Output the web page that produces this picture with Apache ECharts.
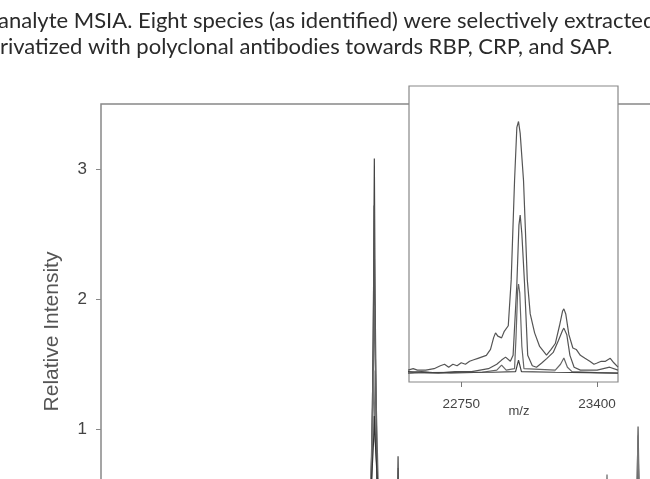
<!DOCTYPE html>
<html>
<head>
<meta charset="utf-8">
<script src="https://cdn.jsdelivr.net/npm/echarts@6.0.0/dist/echarts.min.js"></script>
<style>
  html, body { margin: 0; padding: 0; background: #fff; }
  #chart { width: 650px; height: 479px; }
</style>
</head>
<body>
<div id="chart"></div>
<script>
// caption lines above the figure (cut at the page edge)
var captionLines = [
  "analyte MSIA. Eight species (as identified) were selectively extracted",
  "derivatized with polyclonal antibodies towards RBP, CRP, and SAP."
];

// main spectra: [m/z, relative intensity]
var mainA = [[19000,0.04],[21010,0.08],[21030,0.6],[21044,2.0],[21050,3.08],[21056,2.0],[21070,0.6],[21090,0.08],
  [21215,0.06],[21224,0.45],[21228,0.79],[21232,0.45],[21241,0.06],[23012,0.06],[23022,0.5],[23028,0.86],[23034,0.5],[23046,0.06],[23500,0.04]];
var mainB = [[19000,0.04],[21005,0.08],[21028,0.6],[21042,1.7],[21048,2.72],[21055,1.7],[21068,0.6],[21095,0.08],
  [21218,0.06],[21226,0.4],[21229,0.7],[21233,0.4],[21240,0.06],[23010,0.06],[23021,0.6],[23028,1.02],[23035,0.6],[23047,0.06],[23500,0.04]];
var mainC = [[19000,0.04],[21000,0.08],[21024,0.62],[21040,1.3],[21052,1.95],[21062,1.3],[21078,0.62],[21100,0.08],
  [22780,0.06],[22790,0.4],[22795,0.65],[22800,0.4],[22810,0.06],[23500,0.04]];
var mainD = [[19000,0.04],[21002,0.08],[21022,0.6],[21038,1.0],[21046,1.45],[21054,1.0],[21074,0.6],[21098,0.08],
  [23010,0.06],[23020,0.55],[23027,0.95],[23034,0.55],[23046,0.06],[23500,0.04]];
var mainE = [[19000,0.04],[21008,0.08],[21030,0.62],[21044,0.9],[21050,1.1],[21057,0.9],[21072,0.62],[21092,0.08],[23500,0.04]];

// inset spectra (zoom on the 23 kDa region)
var insetA = [[22495,0.04],[22520,0.045],[22540,0.04],[22580,0.04],[22620,0.045],[22650,0.055],[22670,0.06],[22690,0.05],
  [22710,0.06],[22730,0.055],[22750,0.065],[22770,0.06],[22790,0.07],[22810,0.075],[22830,0.08],[22850,0.085],[22870,0.09],
  [22890,0.11],[22905,0.15],[22914,0.166],[22925,0.155],[22943,0.149],[22955,0.17],[22962,0.176],[22975,0.19],[22989,0.345],
  [23005,0.68],[23016,0.86],[23024,0.88],[23032,0.84],[23048,0.68],[23066,0.345],[23080,0.23],[23101,0.166],[23125,0.12],
  [23158,0.091],[23180,0.11],[23200,0.13],[23220,0.19],[23235,0.24],[23241,0.247],[23250,0.23],[23265,0.16],[23284,0.115],
  [23300,0.11],[23320,0.09],[23342,0.08],[23365,0.07],[23385,0.06],[23400,0.064],[23420,0.07],[23440,0.07],[23463,0.08],
  [23480,0.065],[23500,0.05]];
var insetB = [[22495,0.03],[22560,0.035],[22640,0.03],[22720,0.035],[22800,0.035],[22880,0.045],[22920,0.06],[22943,0.074],
  [22962,0.084],[22985,0.07],[22998,0.09],[23016,0.33],[23026,0.53],[23032,0.564],[23040,0.5],[23053,0.33],[23068,0.09],
  [23090,0.055],[23110,0.05],[23135,0.064],[23160,0.08],[23190,0.1],[23215,0.14],[23235,0.175],[23241,0.182],[23255,0.16],
  [23270,0.09],[23290,0.05],[23320,0.04],[23400,0.04],[23460,0.05],[23500,0.04]];
var insetC = [[22495,0.03],[22600,0.032],[22700,0.03],[22850,0.033],[22920,0.04],[22943,0.057],[22965,0.04],[23005,0.045],
  [23012,0.15],[23020,0.31],[23024,0.331],[23030,0.3],[23040,0.12],[23050,0.045],[23200,0.04],[23225,0.06],[23241,0.081],
  [23258,0.05],[23280,0.035],[23400,0.032],[23500,0.03]];
var insetD = [[22495,0.035],[22600,0.032],[22750,0.033],[22900,0.033],[23010,0.035],[23024,0.074],[23038,0.035],
  [23200,0.033],[23350,0.032],[23500,0.03]];

var mainYTicks = [1, 2, 3];
var insetXTicks = [22750, 23400];

function line(name, data, color, xi, z) {
  return {
    name: name, type: 'line', data: data, xAxisIndex: xi, yAxisIndex: xi,
    symbol: 'none', z: z, lineStyle: { color: color, width: 1.2 }
  };
}

var chart = echarts.init(document.getElementById('chart'));
chart.setOption({
  animation: false,
  backgroundColor: '#fff',
  textStyle: { fontFamily: 'Liberation Sans, Arial, sans-serif' },
  grid: [
    { left: 101, top: 104, width: 600, height: 455, outerBoundsMode: 'none', containLabel: false,
      show: true, borderColor: '#888', borderWidth: 1.5, backgroundColor: 'transparent' },
    { left: 409, top: 86, width: 209, height: 296, outerBoundsMode: 'none', containLabel: false,
      show: true, borderColor: '#888', borderWidth: 1.2, backgroundColor: '#fff', z: 5 }
  ],
  xAxis: [
    { gridIndex: 0, type: 'value', min: 19000, max: 23500, show: false },
    {
      gridIndex: 1, type: 'value', min: 22500, max: 23500, z: 6,
      axisLine: { show: false }, splitLine: { show: false },
      axisTick: { customValues: insetXTicks, length: 5, lineStyle: { color: '#777' } },
      axisLabel: { customValues: insetXTicks, fontSize: 13.5, color: '#444', margin: 15,
        formatter: function (v) { return String(v); } },
      name: 'm/z', nameLocation: 'middle', nameGap: 23, nameMoveOverlap: false,
      nameTextStyle: { fontSize: 13, color: '#444', padding: [0, 0, 0, 11] }
    }
  ],
  yAxis: [
    {
      gridIndex: 0, type: 'value', min: 0, max: 3.5,
      axisLine: { show: false }, splitLine: { show: false },
      axisTick: { customValues: mainYTicks, length: 5, lineStyle: { color: '#888' } },
      axisLabel: { customValues: mainYTicks, fontSize: 17, color: '#444', margin: 14 },
      name: 'Relative Intensity', nameLocation: 'middle', nameGap: 38, nameMoveOverlap: false,
      nameTextStyle: { fontSize: 21, color: '#555' }
    },
    { gridIndex: 1, type: 'value', min: 0, max: 1, show: false }
  ],
  graphic: [
    { type: 'text', left: -2, top: 10, z: 10, style: { text: captionLines[0], font: '22px Lato', fill: '#2a2a2a' } },
    { type: 'text', left: -24, top: 36, z: 10, style: { text: captionLines[1], font: '22px Lato', fill: '#2a2a2a' } }
  ],
  series: [
    line('A', mainA, '#444', 0, 2),
    line('B', mainB, '#555', 0, 2),
    line('C', mainC, '#666', 0, 2),
    line('D', mainD, '#777', 0, 2),
    line('E', mainE, '#333', 0, 2),
    line('iA', insetA, '#555', 1, 7),
    line('iB', insetB, '#555', 1, 7),
    line('iC', insetC, '#666', 1, 7),
    line('iD', insetD, '#444', 1, 7)
  ]
});
</script>
</body>
</html>
